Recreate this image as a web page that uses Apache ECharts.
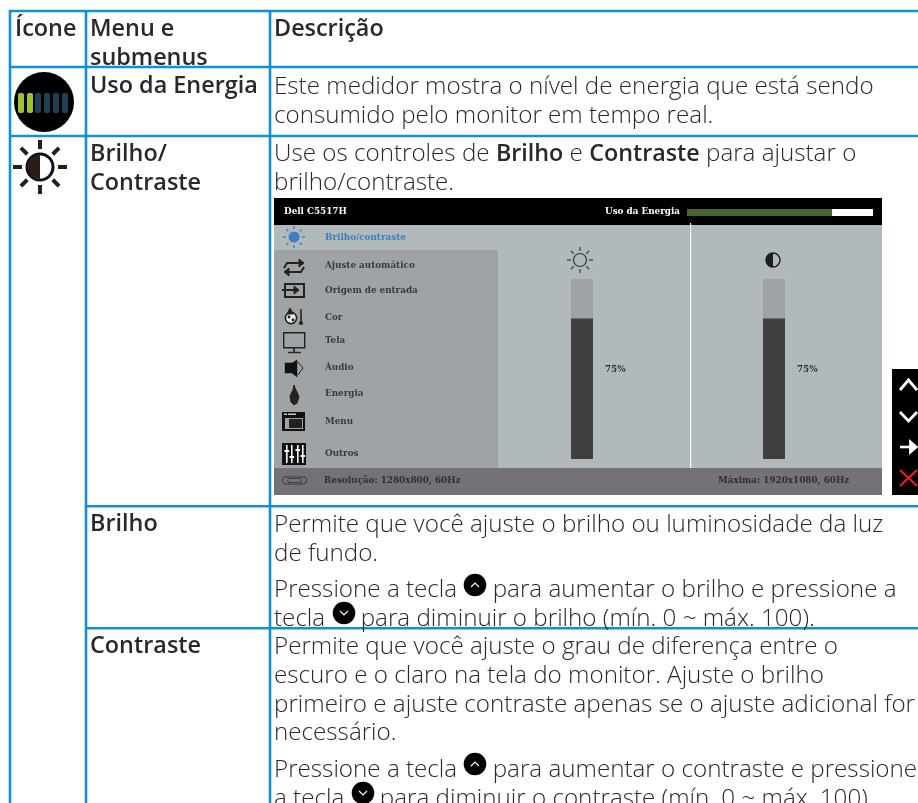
<!DOCTYPE html>
<html>
<head>
<meta charset="utf-8">
<style>html,body{margin:0;padding:0;background:#fff}#chart{width:918px;height:803px}</style>
<script src="https://cdn.jsdelivr.net/npm/echarts@6/dist/echarts.min.js"></script>
</head>
<body>
<div id="chart"></div>
<script>
// table text
var headerLabels = ['Ícone', 'Menu e', 'submenus', 'Descrição'];
var menuLabels = ['Uso da Energia', 'Brilho/', 'Contraste', 'Brilho', 'Contraste'];
var energyDesc = ['Este medidor mostra o nível de energia que está sendo', 'consumido pelo monitor em tempo real.'];
var brightContrastDesc = ['Use os controles de {b|Brilho} e {b|Contraste} para ajustar o', 'brilho/contraste.'];
var brightDesc = ['Permite que você ajuste o brilho ou luminosidade da luz', 'de fundo.',
  'Pressione a tecla {gap| } para aumentar o brilho e pressione a', 'tecla {gap| } para diminuir o brilho (mín. 0 ~ máx. 100).'];
var contrastDesc = ['Permite que você ajuste o grau de diferença entre o', 'escuro e o claro na tela do monitor. Ajuste o brilho',
  'primeiro e ajuste contraste apenas se o ajuste adicional for', 'necessário.',
  'Pressione a tecla {gap| } para aumentar o contraste e pressione', 'a tecla {gap| } para diminuir o contraste (mín. 0 ~ máx. 100).'];
// on screen menu
var osdTitle = 'Dell C5517H';
var osdEnergyLabel = 'Uso da Energia';
var osdMenu = ['Brilho/contraste', 'Ajuste automático', 'Origem de entrada', 'Cor', 'Tela', 'Áudio', 'Energia', 'Menu', 'Outros'];
var osdResolution = 'Resolução: 1280x800, 60Hz';
var osdMaximum = 'Máxima: 1920x1080, 60Hz';
var sliderNames = ['Brilho', 'Contraste'];
var sliderValues = [75, 75];
var energyLevel = [78];

var FONT = '"Open Sans", sans-serif';
var OSD_FONT = '"DejaVu Serif", serif';
var INK = '#2b2829';
var BLUE = '#1090d8';
var OSD_BLUE = '#3b7fc4';
var OSD_INK = '#3a3a3c';
var OSD_SIZE = 8.8;

var g = [];

function rect(x, y, w, h, fill, z) {
  g.push({type: 'rect', shape: {x: x, y: y, width: w, height: h}, style: {fill: fill}, z: z || 1, silent: true});
}
function frame(x, y, w, h, stroke, lw) {
  g.push({type: 'rect', shape: {x: x, y: y, width: w, height: h}, style: {fill: 'none', stroke: stroke, lineWidth: lw}, z: 3, silent: true});
}
function circle(cx, cy, r, fill, stroke, lw) {
  g.push({type: 'circle', shape: {cx: cx, cy: cy, r: r}, style: {fill: fill || 'none', stroke: stroke, lineWidth: lw || 0}, z: 3, silent: true});
}
function poly(points, stroke, lw, fill) {
  g.push({type: fill ? 'polygon' : 'polyline', shape: {points: points}, style: {fill: fill || 'none', stroke: stroke, lineWidth: lw || 0}, z: 3, silent: true});
}
function text(str, x, y, size, weight, color, family) {
  g.push({type: 'text', x: x, y: y, z: 20, silent: true, style: {
    text: str, fontFamily: family || FONT, fontSize: size, fontWeight: weight || 'normal', fill: color || INK,
    verticalAlign: 'middle', align: 'left',
    rich: {
      b: {fontFamily: FONT, fontSize: 23.3, fontWeight: 600, fill: INK},
      gap: {width: 23, fontSize: size}
    }
  }});
}

function sunRays(cx, cy, r1, r2, color, lw) {
  for (var i = 0; i < 8; i++) {
    var a = i * Math.PI / 4;
    poly([[cx + r1 * Math.cos(a), cy + r1 * Math.sin(a)], [cx + r2 * Math.cos(a), cy + r2 * Math.sin(a)]], color, lw);
  }
}
function halfDisc(cx, cy, r, fill) {
  g.push({type: 'sector', shape: {cx: cx, cy: cy, r: r, startAngle: Math.PI / 2, endAngle: Math.PI * 1.5}, style: {fill: fill}, z: 3, silent: true});
}
function keyButton(cx, cy, up) {
  circle(cx, cy, 11.3, '#000');
  var d = up ? -1 : 1;
  poly([[cx - 4, cy - 2 * d], [cx, cy + 2 * d], [cx + 4, cy - 2 * d]], '#fff', 1.2);
}

// table grid
var cols = [10, 86, 270];
var rows = [11, 67, 136];
rows.forEach(function (y) { rect(9, y - 1.3, 909, 2.6, BLUE); });
rect(85, 505, 833, 2.6, BLUE);
rect(85, 627, 833, 2.6, BLUE);
cols.forEach(function (x) { rect(x - 1.3, 10, 2.6, 793, BLUE); });

// header
var HEAD = 23.4;
text(headerLabels[0], 15, 29, HEAD, 600);
text(headerLabels[1], 90, 29, HEAD, 600);
text(headerLabels[2], 90, 58, HEAD, 600);
text(headerLabels[3], 274, 29, HEAD, 600);
// menu column
text(menuLabels[0], 90, 86, HEAD, 600);
text(menuLabels[1], 90, 154, HEAD, 600);
text(menuLabels[2], 90, 183, HEAD, 600);
text(menuLabels[3], 90, 524, HEAD, 600);
text(menuLabels[4], 90, 646, HEAD, 600);
// description column
var DESC = 24.2;
energyDesc.forEach(function (s, i) { text(s, 274, [87, 116][i], DESC, 300); });
brightContrastDesc.forEach(function (s, i) { text(s, 274, [154, 183][i], DESC, 300); });
brightDesc.forEach(function (s, i) { text(s, 274, [525, 554, 590, 619][i], DESC, 300); });
contrastDesc.forEach(function (s, i) { text(s, 274, [647, 676, 705, 733, 770, 799][i], DESC, 300); });
keyButton(475, 585, true);
keyButton(344, 613, false);
keyButton(475, 764, true);
keyButton(363, 793, false);

// power icon
circle(44, 102, 30, '#000');
[18, 27, 35, 44, 53, 62].forEach(function (x, i) {
  g.push({type: 'rect', shape: {x: x, y: 93, width: 6, height: 20, r: 2}, style: {fill: i < 2 ? '#9ac32f' : '#1e3f55'}, z: 4, silent: true});
});
// brightness icon
sunRays(40, 167, 18, 27, '#2a1d18', 4);
circle(40, 167, 13, '#fff', '#0f0f1c', 3);
halfDisc(40, 167, 12, '#2a1d18');

// on screen menu
rect(274, 198, 608, 27, '#000');
rect(274, 225, 608, 243, '#b1b9ba');
rect(274, 250, 224, 218, '#9fa3a6');
rect(274, 468, 608, 27, '#737276');
rect(690, 223, 1.2, 245, '#fff', 2);
text(osdTitle, 284, 212, OSD_SIZE, 'bold', '#fff', OSD_FONT);
text(osdEnergyLabel, 605, 212, OSD_SIZE, 'bold', '#fff', OSD_FONT);
var osdY = [238, 266, 291, 318, 341, 368, 394, 422, 454];
osdMenu.forEach(function (s, i) {
  text(s, 325, osdY[i], OSD_SIZE, 'bold', i === 0 ? OSD_BLUE : OSD_INK, OSD_FONT);
});
text(osdResolution, 324, 481, OSD_SIZE, 'bold', '#2f2f31', OSD_FONT);
text(osdMaximum, 718, 481, OSD_SIZE, 'bold', '#2f2f31', OSD_FONT);

// osd icons
sunRays(294, 237, 8, 11, OSD_BLUE, 1.4);
circle(294, 237, 5.5, OSD_BLUE);
sunRays(580, 260, 9, 13, '#333', 1.2);
circle(580, 260, 6.5, 'none', '#333', 1.2);
circle(773, 260, 7, 'none', '#1d1d1f', 1.4);
halfDisc(773, 260, 7, '#1d1d1f');
// auto adjust
poly([[284, 268], [287, 263], [300, 263]], '#222', 2);
poly([[299, 259], [304, 263], [299, 267]], '#222', 1, '#222');
poly([[304, 267], [301, 272], [289, 272]], '#222', 2);
poly([[289, 268], [284, 272], [289, 276]], '#222', 1, '#222');
// input source
frame(285, 284, 19, 13, '#222', 2);
poly([[282, 290], [296, 290]], '#222', 2);
poly([[294, 286], [299, 290], [294, 294]], '#222', 1, '#222');
// colour
circle(291, 318, 5.6, '#e8e8e8', '#222', 1.6);
poly([[290, 308], [287, 314], [293, 314]], '#222', 1, '#222');
circle(289, 317, 1.4, '#222');
circle(293, 320, 1.4, '#222');
poly([[301, 309], [301, 321]], '#222', 1.6);
circle(301, 323, 2, '#222');
// display
frame(283.7, 332.7, 21, 15, '#222', 1.4);
poly([[294, 348], [294, 352]], '#222', 1.6);
poly([[288, 352.5], [301, 352.5]], '#222', 1.4);
// audio
poly([[285, 363], [292, 363], [297, 360], [297, 377], [292, 373], [285, 373]], '#111', 0.5, '#111');
poly([[298, 362], [303, 368], [298, 375]], '#222', 1);
// power flame
poly([[294, 385], [293, 390], [290, 396], [291, 402], [294, 405], [297, 403], [299, 397], [297, 392], [295, 388]], '#222', 1, '#222');
// menu
rect(282, 412, 23, 19, '#111', 3);
rect(285, 418, 18, 11, '#9fa3a6', 3);
rect(289, 419, 13, 9, '#222', 3);
rect(284, 413.5, 3, 1.5, '#ccc', 4);
rect(288, 413.5, 8, 1.5, '#ccc', 4);
// others
rect(282, 443, 24, 22, '#111', 3);
[286, 291, 297, 302].forEach(function (x, i) {
  rect(x, 445, 1.6, 18, '#fff', 4);
  rect(x - 1.5, [450, 456, 449, 455][i], 4.6, 2, '#fff', 4);
});
// connector
poly([[284, 477], [305, 477], [307, 480], [305, 484], [284, 484], [282, 480]], '#3a3a3c', 1, '#737276');
frame(288, 478.5, 13, 4, '#3a3a3c', 0.8);

// nav keys
rect(892, 369, 26, 126, '#000');
poly([[900, 390], [908.5, 380], [917, 390]], '#fff', 2.8);
poly([[900, 412], [908.5, 421], [917, 412]], '#fff', 2.8);
poly([[900, 447], [915, 447]], '#fff', 2.6);
poly([[910, 441], [917, 447], [910, 453]], '#fff', 1.8, '#fff');
poly([[900, 470], [917, 486]], '#ed1c24', 2.2);
poly([[917, 470], [900, 486]], '#ed1c24', 2.2);

var option = {
  animation: false,
  backgroundColor: '#fff',
  grid: [
    {left: 571, top: 279, width: 22, height: 180},
    {left: 763, top: 279, width: 22, height: 180},
    {left: 687, top: 209, width: 186, height: 7}
  ],
  xAxis: [
    {gridIndex: 0, type: 'category', data: [sliderNames[0]], show: false},
    {gridIndex: 1, type: 'category', data: [sliderNames[1]], show: false},
    {gridIndex: 2, type: 'value', min: 0, max: 100, show: false}
  ],
  // the drawn sliders sit a little above their printed value, hence 96
  yAxis: [
    {gridIndex: 0, type: 'value', min: 0, max: 96, show: false},
    {gridIndex: 1, type: 'value', min: 0, max: 96, show: false},
    {gridIndex: 2, type: 'category', data: [osdEnergyLabel], show: false}
  ],
  series: [0, 1].map(function (i) {
    return {
      type: 'bar', xAxisIndex: i, yAxisIndex: i, data: [sliderValues[i]], barWidth: 22, z: 5, silent: true,
      showBackground: true, backgroundStyle: {color: '#9fa3a6'},
      itemStyle: {color: '#3f3f41'},
      label: {show: true, position: 'right', formatter: '{c}%', offset: [7, -19], color: '#2f2f31',
        fontFamily: OSD_FONT, fontSize: OSD_SIZE, fontWeight: 'bold'}
    };
  }).concat([{
    type: 'bar', xAxisIndex: 2, yAxisIndex: 2, data: energyLevel, barWidth: 7, z: 5, silent: true,
    showBackground: true, backgroundStyle: {color: '#fff'},
    itemStyle: {color: '#4a6536'}
  }]),
  graphic: {elements: g}
};

var chart = echarts.init(document.getElementById('chart'));
chart.setOption(option);
</script>
</body>
</html>
